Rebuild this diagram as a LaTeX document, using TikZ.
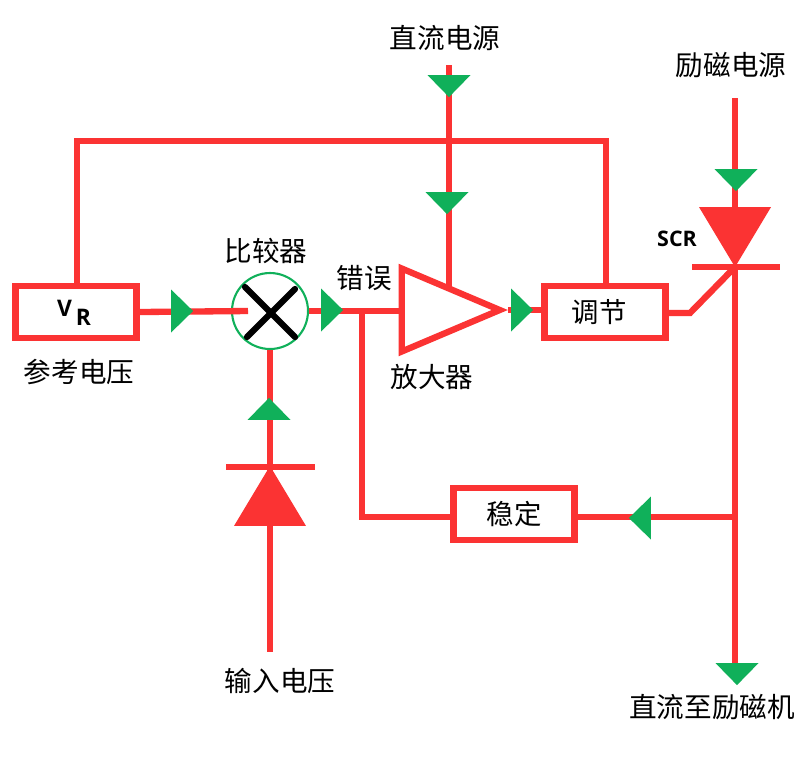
\documentclass[tikz,border=0pt]{standalone}
\usepackage{fontspec}
\usepackage{xcolor}
\usetikzlibrary{shapes.geometric,positioning}
\newfontfamily\cjk{Noto Sans CJK SC}
\newfontfamily\latn{Open Sans}
\definecolor{wirered}{HTML}{FB3333}
\definecolor{arrowgreen}{HTML}{10B05A}
\tikzset{
wire/.style={draw=wirered,line width=3.6pt},
blockbox/.style={draw=wirered,line width=3.6pt,fill=white,minimum width=2.42cm,minimum height=1.04cm,inner sep=0pt,font=\cjk\fontsize{15.6}{18}\selectfont},
label/.style={inner sep=0pt,font=\cjk\fontsize{15.7}{18}\selectfont},
greentri/.style={isosceles triangle,isosceles triangle stretches,fill=arrowgreen,inner sep=0pt,anchor=apex,shape border rotate=#1,minimum width=0.86cm,minimum height=0.44cm},
diodetri/.style={isosceles triangle,isosceles triangle stretches,fill=wirered,inner sep=0pt,anchor=apex,shape border rotate=#1,minimum width=1.44cm,minimum height=1.2cm}
}
\begin{document}
\begin{tikzpicture}[x=0.02cm,y=-0.02cm]
\useasboundingbox (0,0) rectangle (800,769);
\node[blockbox] (vr) at (76,312) {};
\node[blockbox] (adjust) at (605,312) {\hspace{-0.24cm}调节};
\node[blockbox] (stable) at (514,514) {稳定};
\node[circle,draw=arrowgreen,line width=1.2pt,minimum size=1.52cm,inner sep=0pt] (comp) at (270,311) {};
\coordinate (dcin) at (449,65);
\coordinate (ampin) at (449,290);
\coordinate (exin) at (735,98);
\coordinate (scrk) at (735,267);
\coordinate (scrg) at (690,313);
\coordinate (dcout) at (735,665);
\coordinate (errtap) at (362,311);
\coordinate (fbtap) at (735,517);
\coordinate (dzk) at (270,467);
\coordinate (vin) at (270,652);
\coordinate (topl) at (77,141);
\coordinate (topr) at (606,141);
\draw[wire] (dcin)--(ampin);
\draw[wire] (vr.north -| topl)--(topl)--(topr)--(adjust.north -| topr);
\draw[wire] (vr.east)--(248,311);
\draw[wire] (comp.east)--(403,311);
\draw[wire] (errtap)--(errtap |- fbtap)--(stable.west |- fbtap);
\node[isosceles triangle,isosceles triangle stretches,draw=wirered,line width=3.6pt,fill=white,inner sep=0pt,anchor=apex,minimum width=1.66cm,minimum height=1.96cm] (amp) at (508,310) {};
\draw[wire] (amp.apex)--(adjust.west |- amp.apex);
\draw[wire] (adjust.east |- scrg)--(scrg)--(scrk);
\draw[wire] (exin)--(735,210);
\draw[wire] (scrk)--(dcout);
\draw[wire] (stable.east |- fbtap)--(fbtap);
\draw[wire] (comp.south)--(dzk)--(vin);
\draw[wire] (692,267)--(780,267);
\draw[wire] (226,467)--(315,467);
\node[diodetri=-90] (scr) at (735,268) {};
\node[diodetri=90] (dz) at (270,465) {};
\draw[black,line width=3.6pt,line cap=round] (245,287)--(295,337);
\draw[black,line width=3.6pt,line cap=round] (295,289)--(247,337);
\node[greentri=-90] (a1) at (449,98) {};
\node[greentri=-90] (a2) at (447,215) {};
\node[greentri=-90] (a3) at (736,192) {};
\node[greentri=-90] (a4) at (737,686) {};
\node[greentri=90] (a5) at (269,397) {};
\node[greentri=0] (a6) at (194,311) {};
\node[greentri=0] (a7) at (344,310) {};
\node[greentri=0] (a8) at (534,310) {};
\node[greentri=180] (a9) at (628,518) {};
\node[inner sep=0pt,font=\latn\bfseries\fontsize{13}{16}\selectfont] (vrtext) at (74,313) {V\,\raisebox{-0.7ex}{R}};
\node[inner sep=0pt,font=\latn\bfseries\fontsize{12.2}{14}\selectfont] (scrtext) at (677,239) {SCR};
\node[label] (l1) at (445,38) {直流电源};
\node[label] (l2) at (731,65) {励磁电源};
\node[label] (l3) at (266,251) {比较器};
\node[label] (l4) at (364,278) {错误};
\node[label] (l5) at (79,372) {参考电压};
\node[label] (l6) at (432,377) {放大器};
\node[label] (l7) at (280,681) {输入电压};
\node[label] (l8) at (712,707) {直流至励磁机};
\end{tikzpicture}
\end{document}
